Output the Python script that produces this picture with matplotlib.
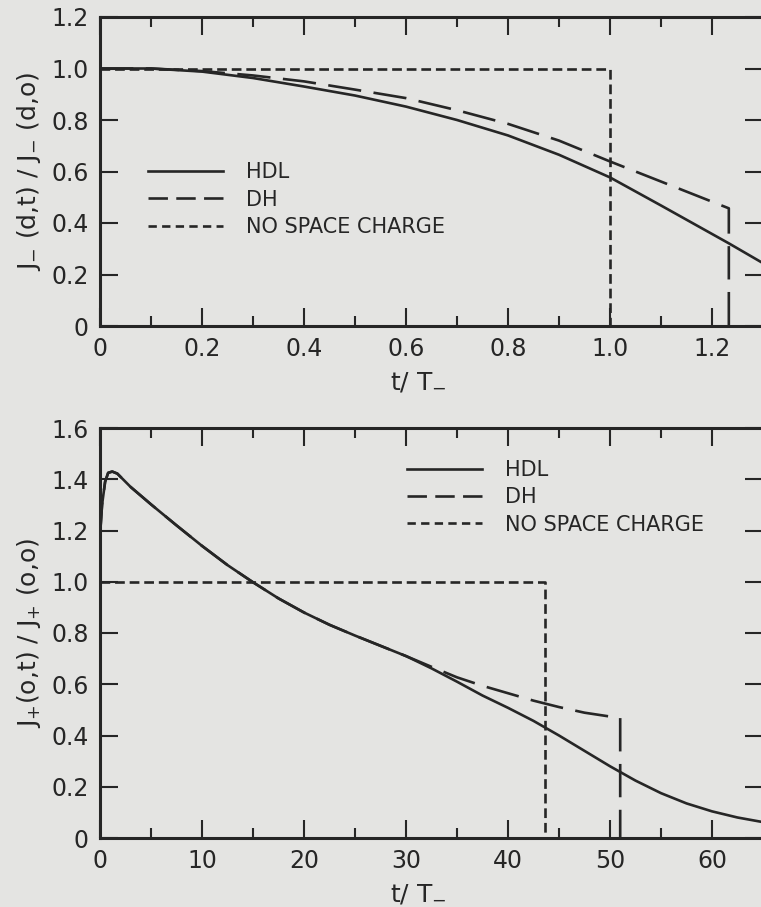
import matplotlib
matplotlib.use("Agg")
import matplotlib.pyplot as plt
from matplotlib.lines import Line2D
from matplotlib.ticker import MultipleLocator

# top panel: electron current at anode, time in units of T-
t_top_hdl = [0, 0.1, 0.2, 0.3, 0.4, 0.5, 0.6, 0.7, 0.8, 0.9, 1.0, 1.1, 1.233, 1.3]
j_top_hdl = [1.0, 1.0, 0.988, 0.963, 0.93, 0.895, 0.852, 0.80, 0.74, 0.665, 0.577, 0.468, 0.321, 0.244]
t_top_dh = [0, 0.1, 0.2, 0.3, 0.4, 0.5, 0.6, 0.7, 0.8, 0.9, 1.0, 1.1, 1.233, 1.233]
j_top_dh = [1.0, 1.0, 0.99, 0.973, 0.95, 0.918, 0.885, 0.838, 0.785, 0.72, 0.639, 0.561, 0.457, 0.0]
t_top_nsc = [0, 1.0, 1.0]
j_top_nsc = [1.0, 1.0, 0.0]

# bottom panel: ion current at cathode
t_bot_hdl = [0, 0.2, 0.5, 0.8, 1.2, 1.7, 3, 5, 7.5, 10, 12.5, 15, 17.5, 20, 22.5, 25,
             27.5, 30, 32.5, 35, 37.5, 40, 42.5, 45, 47.5, 50, 52.5, 55, 57.5, 60, 62.5, 65]
j_bot_hdl = [1.18, 1.3, 1.39, 1.425, 1.43, 1.422, 1.37, 1.302, 1.22, 1.14, 1.065, 0.998,
             0.935, 0.88, 0.832, 0.79, 0.75, 0.71, 0.662, 0.61, 0.556, 0.508, 0.457, 0.40,
             0.34, 0.28, 0.224, 0.175, 0.135, 0.104, 0.08, 0.062]
t_bot_dh = [0, 0.2, 0.5, 0.8, 1.2, 1.7, 3, 5, 7.5, 10, 12.5, 15, 17.5, 20, 22.5, 25,
            27.5, 30, 32.5, 35, 37.5, 40, 42.5, 45, 47.5, 50, 51, 51]
j_bot_dh = [1.18, 1.3, 1.39, 1.425, 1.43, 1.422, 1.37, 1.302, 1.22, 1.14, 1.065, 0.998,
            0.935, 0.88, 0.832, 0.79, 0.75, 0.71, 0.668, 0.627, 0.594, 0.565, 0.536, 0.511,
            0.489, 0.474, 0.469, 0.0]
t_bot_nsc = [0, 43.6, 43.6]
j_bot_nsc = [1.0, 1.0, 0.0]

labels = ["HDL", "DH", "NO SPACE CHARGE"]

ink = "#262626"
paper = "#e4e4e2"
plt.rcParams["font.family"] = ["DejaVu Sans"]
plt.rcParams["mathtext.default"] = "regular"
plt.rcParams["lines.scale_dashes"] = False

LONG = (0, (24, 9))
SHORT = (0, (7, 3.5))

fig = plt.figure(figsize=(7.61, 9.07), dpi=100, facecolor=paper)
ax1 = fig.add_axes([100 / 761, 581 / 907, 663 / 761, 309 / 907])
ax2 = fig.add_axes([100 / 761, 69 / 907, 663 / 761, 410 / 907])

for ax in (ax1, ax2):
    ax.set_facecolor(paper)
    for s in ax.spines.values():
        s.set_linewidth(2.2)
        s.set_color(ink)
    ax.tick_params(which="both", direction="in", top=True, right=True,
                   color=ink, width=1.5, labelsize=17, labelcolor=ink, pad=8)
    ax.tick_params(which="major", length=13)
    ax.tick_params(which="minor", length=7, left=False, right=False)

lw = 1.9
ax1.plot(t_top_hdl, j_top_hdl, color=ink, lw=lw)
ax1.plot(t_top_dh, j_top_dh, color=ink, lw=lw, linestyle=LONG)
ax1.plot(t_top_nsc, j_top_nsc, color=ink, lw=lw, linestyle=SHORT)
ax1.set_xlim(0, 1.3)
ax1.set_ylim(0, 1.2)
ax1.xaxis.set_minor_locator(MultipleLocator(0.1))
ax1.set_xticks([0, 0.2, 0.4, 0.6, 0.8, 1.0, 1.2])
ax1.set_xticklabels(["0", "0.2", "0.4", "0.6", "0.8", "1.0", "1.2"])
ax1.set_yticks([0, 0.2, 0.4, 0.6, 0.8, 1.0, 1.2])
ax1.set_yticklabels(["0", "0.2", "0.4", "0.6", "0.8", "1.0", "1.2"])
ax1.set_xlabel("t/ T$_{-}$", fontsize=18, color=ink, labelpad=6, x=0.48)
ax1.set_ylabel("J$_{-}$ (d,t) / J$_{-}$ (d,o)", fontsize=18, color=ink, labelpad=6)

ax2.plot(t_bot_hdl, j_bot_hdl, color=ink, lw=lw)
ax2.plot(t_bot_dh, j_bot_dh, color=ink, lw=lw, linestyle=LONG)
ax2.plot(t_bot_nsc, j_bot_nsc, color=ink, lw=lw, linestyle=SHORT)
ax2.set_xlim(0, 65)
ax2.set_ylim(0, 1.6)
ax2.xaxis.set_major_locator(MultipleLocator(10))
ax2.xaxis.set_minor_locator(MultipleLocator(5))
ax2.set_yticks([0, 0.2, 0.4, 0.6, 0.8, 1.0, 1.2, 1.4, 1.6])
ax2.set_yticklabels(["0", "0.2", "0.4", "0.6", "0.8", "1.0", "1.2", "1.4", "1.6"])
ax2.set_xlabel("t/ T$_{-}$", fontsize=18, color=ink, labelpad=6, x=0.48)
ax2.set_ylabel("J$_{+}$(o,t) / J$_{+}$ (o,o)", fontsize=18, color=ink, labelpad=6)

# legend proxies, dash pattern as drawn in the key
handles = [Line2D([], [], color=ink, lw=lw),
           Line2D([], [], color=ink, lw=lw, linestyle=(0, (14, 6))),
           Line2D([], [], color=ink, lw=lw, linestyle=(0, (6, 3.8)))]
for ax, anchor in ((ax1, (0.072, 0.53)), (ax2, (0.463, 0.922))):
    leg = ax.legend(handles, labels, loc="upper left", bbox_to_anchor=anchor,
                    frameon=False, borderpad=0, borderaxespad=0, fontsize=15,
                    handlelength=3.6, handletextpad=1.1, labelspacing=0.35)
    for txt in leg.get_texts():
        txt.set_color(ink)

fig.savefig("out.png", dpi=100, facecolor=paper)
